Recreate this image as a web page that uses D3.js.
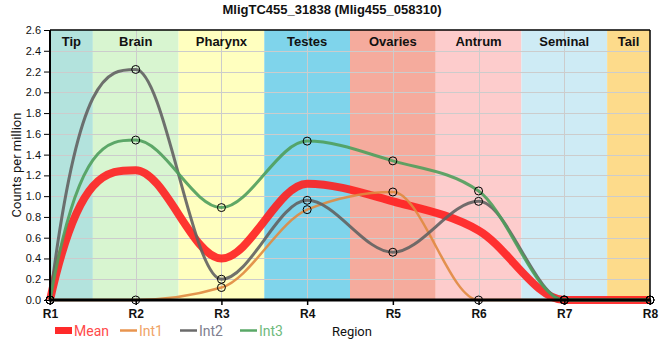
<!DOCTYPE html>
<html>
<head>
<meta charset="utf-8">
<script src="https://cdn.jsdelivr.net/npm/d3@7/dist/d3.min.js"></script>
<style>
  html, body { margin: 0; padding: 0; background: #fff; }
  svg { display: block; font-family: "Liberation Sans", Arial, sans-serif; }
</style>
</head>
<body>
<svg id="chart" width="660" height="360"></svg>
<script>
// ---- data ----
const regions = ["R1", "R2", "R3", "R4", "R5", "R6", "R7", "R8"];
const bandNames = ["Tip", "Brain", "Pharynx", "Testes", "Ovaries", "Antrum", "Seminal", "Tail"];
const bandColors = ["#b3e3dd", "#d8f5d0", "#ffffbf", "#7fd4eb", "#f5ab9d", "#fdcccc", "#ceebf5", "#fddb8b"];
const meanValues = [0, 1.25, 0.40, 1.12, 0.95, 0.67, 0, 0];
const int1Values = [0, 0, 0.12, 0.87, 1.04, 0, 0, 0];
const int2Values = [0, 2.22, 0.20, 0.96, 0.46, 0.95, 0, 0];
const int3Values = [0, 1.54, 0.89, 1.53, 1.34, 1.05, 0, 0];
const yTicks = [0, 0.2, 0.4, 0.6, 0.8, 1.0, 1.2, 1.4, 1.6, 1.8, 2.0, 2.2, 2.4, 2.6];
const titleText = "MligTC455_31838 (Mlig455_058310)";

// ---- layout ----
const svg = d3.select("#chart");
const L = 50, R = 650, T = 30, B = 300;
const x = d3.scalePoint().domain(regions).range([L, R]);
const y = d3.scaleLinear().domain([0, 2.6]).range([B, T]);
const step = x.step();

// custom monotone curve (Steffen interior tangents, steep endpoint tangents)
function MonoEnd(context) { this._context = context; }
MonoEnd.prototype = {
  areaStart() {}, areaEnd() {},
  lineStart() { this._pts = []; },
  point(px, py) { this._pts.push([+px, +py]); },
  lineEnd() {
    const p = this._pts, n = p.length, c = this._context;
    if (!n) return;
    c.moveTo(p[0][0], p[0][1]);
    if (n === 1) return;
    const s = [], h = [];
    for (let i = 0; i < n - 1; i++) {
      h[i] = p[i + 1][0] - p[i][0];
      s[i] = (p[i + 1][1] - p[i][1]) / h[i];
    }
    const m = new Array(n).fill(0);
    for (let i = 1; i < n - 1; i++) {
      const s0 = s[i - 1], s1 = s[i], h0 = h[i - 1], h1 = h[i];
      const pp = (s0 * h1 + s1 * h0) / (h0 + h1);
      m[i] = (Math.sign(s0) + Math.sign(s1)) * Math.min(Math.abs(s0), Math.abs(s1), 0.5 * Math.abs(pp)) || 0;
    }
    m[0] = n > 2 ? 3 * s[0] - 2 * m[1] : s[0];
    m[n - 1] = n > 2 ? 3 * s[n - 2] - 2 * m[n - 2] : s[n - 2];
    for (let i = 0; i < n - 1; i++) {
      const dx = h[i] / 3;
      c.bezierCurveTo(p[i][0] + dx, p[i][1] + m[i] * dx,
                      p[i + 1][0] - dx, p[i + 1][1] - m[i + 1] * dx,
                      p[i + 1][0], p[i + 1][1]);
    }
  }
};
const curveMonoEnd = ctx => new MonoEnd(ctx);

// ---- background bands ----
const bandEdges = bandNames.map((_, i) => {
  const x0 = i === 0 ? L : x(regions[i - 1]) + step / 2;
  const x1 = i === bandNames.length - 1 ? R : x(regions[i]) + step / 2;
  return [x0, x1];
});
svg.append("g").selectAll("rect").data(bandNames).join("rect")
  .attr("x", (d, i) => bandEdges[i][0])
  .attr("y", T)
  .attr("width", (d, i) => bandEdges[i][1] - bandEdges[i][0])
  .attr("height", B - T)
  .attr("fill", (d, i) => bandColors[i]);

// ---- grid ----
const grid = svg.append("g").attr("stroke", "#cccccc").attr("stroke-width", 1);
grid.selectAll("line.h").data(yTicks.filter(v => v > 0 && v < 2.6)).join("line")
  .attr("x1", L).attr("x2", R)
  .attr("y1", d => Math.round(y(d)) + 0.5).attr("y2", d => Math.round(y(d)) + 0.5);
grid.selectAll("line.v").data(regions.slice(1, -1)).join("line")
  .attr("x1", d => Math.round(x(d)) + 0.5).attr("x2", d => Math.round(x(d)) + 0.5)
  .attr("y1", T).attr("y2", B);

// ---- band labels ----
svg.append("g").selectAll("text").data(bandNames).join("text")
  .attr("x", (d, i) => (bandEdges[i][0] + bandEdges[i][1]) / 2)
  .attr("y", 46)
  .attr("text-anchor", "middle")
  .attr("font-size", 13).attr("font-weight", "bold").attr("fill", "#111")
  .text(d => d);

// ---- lines ----
const line = d3.line().x((d, i) => x(regions[i])).y(d => y(d)).curve(curveMonoEnd);
const series = [
  { name: "Mean", values: meanValues, color: "#ff1f1f", width: 8, opacity: 0.9, markers: false },
  { name: "Int1", values: int1Values, color: "#e08a40", width: 2.5, opacity: 0.9, markers: true },
  { name: "Int2", values: int2Values, color: "#626262", width: 3, opacity: 0.9, markers: true },
  { name: "Int3", values: int3Values, color: "#4f9f5c", width: 3, opacity: 0.9, markers: true }
];
const lines = svg.append("g").attr("fill", "none");
series.forEach(s => {
  lines.append("path")
    .attr("d", line(s.values))
    .attr("stroke", s.color)
    .attr("stroke-width", s.width)
    .attr("stroke-opacity", s.opacity);
});

// ---- axes ----
const yAxis = svg.append("g").attr("transform", `translate(${L},0)`)
  .call(d3.axisLeft(y).tickValues(yTicks).tickFormat(d3.format(".1f")).tickSize(6).tickPadding(3));
yAxis.select(".domain").remove();
yAxis.selectAll("line").attr("stroke", "#000");
yAxis.selectAll("text").attr("font-size", 11).attr("fill", "#111")
  .attr("font-family", "'Liberation Sans', Arial, sans-serif");

const xAxis = svg.append("g").attr("transform", `translate(0,${B})`)
  .call(d3.axisBottom(x).tickSize(5).tickPadding(4));
xAxis.select(".domain").remove();
xAxis.selectAll("line").attr("stroke", "#000").attr("stroke-width", 1.5);
xAxis.selectAll("text").attr("font-size", 12).attr("font-weight", "bold").attr("fill", "#111")
  .attr("font-family", "'Liberation Sans', Arial, sans-serif");

// frame
svg.append("line").attr("x1", L).attr("x2", R).attr("y1", T).attr("y2", T).attr("stroke", "#000").attr("stroke-width", 1.5);
svg.append("line").attr("x1", R).attr("x2", R).attr("y1", T).attr("y2", B).attr("stroke", "#000").attr("stroke-width", 1.5);
svg.append("line").attr("x1", L).attr("x2", L).attr("y1", T).attr("y2", B + 1).attr("stroke", "#000").attr("stroke-width", 2);
svg.append("line").attr("x1", L - 1).attr("x2", R + 1).attr("y1", B).attr("y2", B).attr("stroke", "#000").attr("stroke-width", 3);

// ---- markers ----
const mk = svg.append("g").attr("fill", "none").attr("stroke", "#000").attr("stroke-width", 1);
series.filter(s => s.markers).forEach(s => {
  mk.selectAll(null).data(s.values).join("circle")
    .attr("cx", (d, i) => x(regions[i]))
    .attr("cy", d => y(d))
    .attr("r", 4);
});

// ---- title & axis labels ----
svg.append("text").attr("x", 332).attr("y", 14).attr("text-anchor", "middle")
  .attr("font-size", 13).attr("font-weight", "bold").attr("fill", "#111").text(titleText);
svg.append("text").attr("transform", `translate(21,${(T + B) / 2}) rotate(-90)`)
  .attr("text-anchor", "middle").attr("font-size", 13).attr("fill", "#111")
  .attr("font-family", "Roboto, 'Liberation Sans', sans-serif")
  .text("Counts per million");
svg.append("text").attr("x", 332).attr("y", 336)
  .attr("font-size", 13).attr("fill", "#111")
  .attr("font-family", "Roboto, 'Liberation Sans', sans-serif")
  .text("Region");

// ---- legend ----
const legendItems = [
  { name: "Mean", color: "#ff2a2a", text: "#ff4a4a", type: "rect", x: 55 },
  { name: "Int1", color: "#e8954f", text: "#f0a466", type: "line", x: 120 },
  { name: "Int2", color: "#6b6b6b", text: "#80808f", type: "line", x: 180 },
  { name: "Int3", color: "#5aa867", text: "#6fba7c", type: "line", x: 240 }
];
const lg = svg.append("g").attr("font-family", "Roboto, 'Liberation Sans', sans-serif").attr("font-size", 14);
legendItems.forEach(it => {
  if (it.type === "rect") {
    lg.append("rect").attr("x", it.x).attr("y", 327).attr("width", 17).attr("height", 7).attr("fill", it.color);
    lg.append("text").attr("x", it.x + 19).attr("y", 336).attr("fill", it.text).text(it.name);
  } else {
    lg.append("line").attr("x1", it.x).attr("x2", it.x + 17).attr("y1", 330.5).attr("y2", 330.5)
      .attr("stroke", it.color).attr("stroke-width", 2.5);
    lg.append("text").attr("x", it.x + 19).attr("y", 336).attr("fill", it.text).text(it.name);
  }
});
</script>
</body>
</html>
